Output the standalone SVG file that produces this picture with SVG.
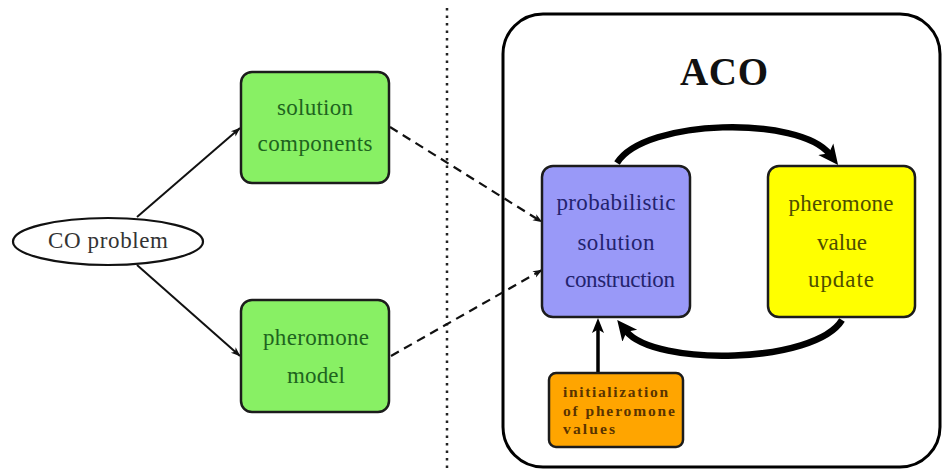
<svg xmlns="http://www.w3.org/2000/svg" width="945" height="469" viewBox="0 0 945 469">
<defs>
<style>
text{font-family:"Liberation Serif","DejaVu Serif",serif;}
.lbl{font-size:23px;text-anchor:middle;}
.box{stroke:#1c1c1c;stroke-width:2.5;}
.thin{fill:none;stroke:#111;stroke-width:2;}
.dash{fill:none;stroke:#111;stroke-width:2.2;stroke-dasharray:9 6;}
.thick{fill:none;stroke:#000;stroke-width:6.5;}
</style>
<marker id="ah" markerUnits="userSpaceOnUse" markerWidth="12" markerHeight="10" viewBox="0 -5 12 10" refX="9" refY="0" orient="auto">
<path d="M0,-3.6 L9.5,0 L0,3.6 L2.5,0 z" fill="#111"/>
</marker>
<marker id="big" markerUnits="userSpaceOnUse" markerWidth="24" markerHeight="22" viewBox="0 -11 24 22" refX="6" refY="0" orient="auto">
<path d="M0,-9.5 L20,0 L0,9.5 L5,0 z" fill="#000"/>
</marker>
<marker id="mid" markerUnits="userSpaceOnUse" markerWidth="18" markerHeight="14" viewBox="0 -7 18 14" refX="4" refY="0" orient="auto">
<path d="M0,-6 L15,0 L0,6 L3.5,0 z" fill="#000"/>
</marker>
</defs>
<rect width="945" height="469" fill="#fff"/>

<line x1="447" y1="8" x2="447" y2="469" stroke="#222" stroke-width="2.5" stroke-dasharray="2.5 5"/>

<g id="aco">
<rect x="503" y="14" width="437" height="453" rx="40" fill="none" stroke="#000" stroke-width="3"/>
<text x="724" y="85" font-size="39" font-weight="bold" text-anchor="middle" textLength="88" fill="#111">ACO</text>
</g>

<g id="connectors">
<line class="thin" x1="137" y1="217" x2="240" y2="128" marker-end="url(#ah)"/>
<line class="thin" x1="137" y1="265" x2="240" y2="356" marker-end="url(#ah)"/>
<line class="dash" x1="390" y1="127" x2="542" y2="222" marker-end="url(#ah)"/>
<line class="dash" x1="391" y1="356" x2="542" y2="270" marker-end="url(#ah)"/>
<path class="thick" d="M617,163 C645,118 800,116 829.5,154" marker-end="url(#big)"/>
<path class="thick" d="M842,320 C815,364 655,367 626,331" marker-end="url(#big)"/>
<line x1="598" y1="373" x2="598" y2="329" stroke="#000" stroke-width="3.5" marker-end="url(#mid)"/>
</g>

<g id="co-problem">
<ellipse cx="108" cy="241.5" rx="95" ry="23.5" fill="#fff" stroke="#111" stroke-width="2.2"/>
<text class="lbl" x="108" y="248" textLength="120" fill="#333">CO problem</text>
</g>

<g id="solution-components">
<rect class="box" x="241" y="72" width="148" height="111" rx="11" fill="#88f064"/>
<text class="lbl" x="315" y="115" textLength="76" fill="#1e641e">solution</text>
<text class="lbl" x="315" y="151" textLength="115" fill="#1e641e">components</text>
</g>

<g id="pheromone-model">
<rect class="box" x="241" y="300" width="148" height="112" rx="11" fill="#88f064"/>
<text class="lbl" x="316" y="345" textLength="106" fill="#1e641e">pheromone</text>
<text class="lbl" x="316" y="383" textLength="58" fill="#1e641e">model</text>
</g>

<g id="probabilistic">
<rect class="box" x="542" y="166" width="148" height="151" rx="11" fill="#9999f8"/>
<text class="lbl" x="616" y="210" textLength="119" fill="#23236e">probabilistic</text>
<text class="lbl" x="616" y="250" textLength="77" fill="#23236e">solution</text>
<text class="lbl" x="620" y="287" textLength="110" fill="#23236e">construction</text>
</g>

<g id="pheromone-update">
<rect class="box" x="768" y="166" width="147" height="151" rx="11" fill="#ffff00"/>
<text class="lbl" x="841" y="211" textLength="105" fill="#4e4e00">pheromone</text>
<text class="lbl" x="842" y="250" textLength="50" fill="#4e4e00">value</text>
<text class="lbl" x="841" y="287" textLength="66" fill="#4e4e00">update</text>
</g>

<g id="initialization">
<rect class="box" x="549" y="373" width="134" height="74" rx="7" fill="#ffa500"/>
<g font-size="15.5" font-weight="bold" fill="#5a3400">
<text x="563" y="397" textLength="105">initialization</text>
<text x="563" y="415.5" textLength="112">of pheromone</text>
<text x="563" y="434" textLength="52">values</text>
</g>
</g>
</svg>
